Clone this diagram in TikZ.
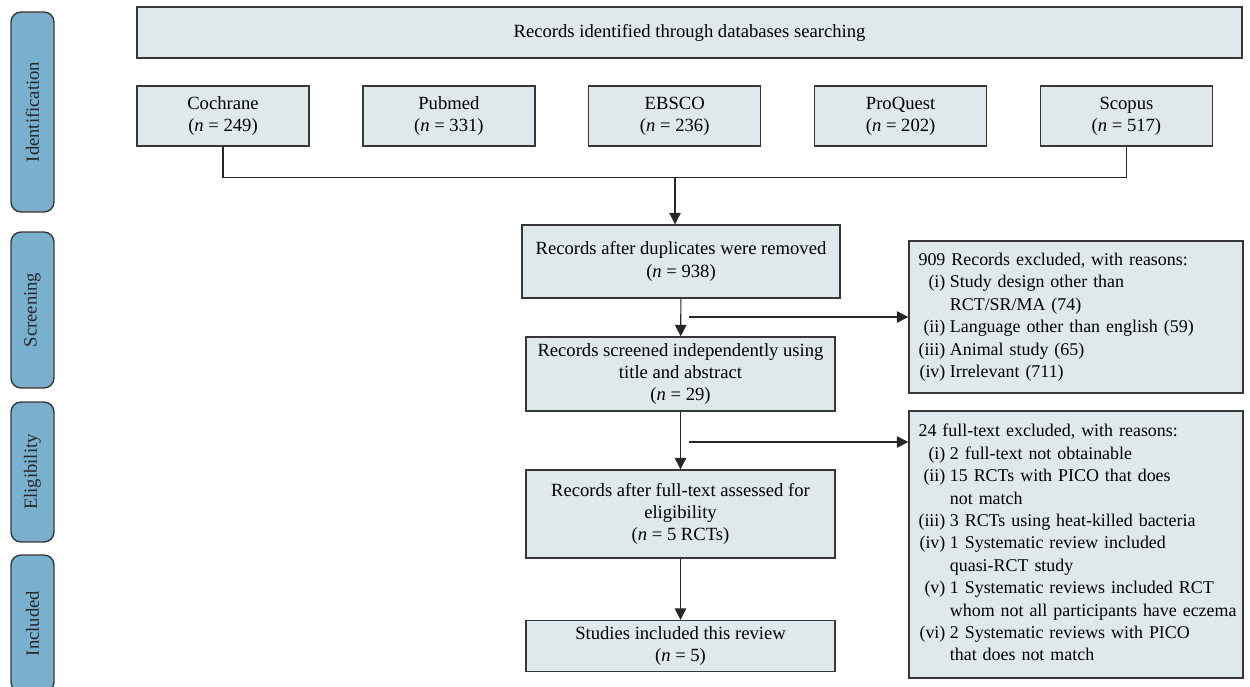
\documentclass[tikz,border=0pt]{standalone}
\usepackage{fontspec}
\setmainfont{Liberation Serif}
\usetikzlibrary{arrows.meta, positioning, calc}
\definecolor{boxfill}{RGB}{223,232,234}
\definecolor{phasefill}{RGB}{120,176,205}
\definecolor{edgegray}{RGB}{55,55,55}

\begin{document}
\begin{tikzpicture}[x=0.02cm, y=-0.02cm, node distance=1.05cm and 1.05cm, >=Triangle, font=\fontsize{10.6}{12.7}\selectfont]
  % Define styles
  \tikzstyle{phase} = [rectangle, rounded corners=2mm, rotate=90, minimum height=0.86cm, draw=edgegray, line width=0.8pt, fill=phasefill, text=black!85]
  \tikzstyle{dbbox} = [rectangle, minimum width=3.44cm, minimum height=1.2cm, align=center, draw=edgegray, line width=0.8pt, fill=boxfill]
  \tikzstyle{process} = [rectangle, minimum width=6.18cm, align=center, draw=edgegray, line width=0.8pt, fill=boxfill]
  \tikzstyle{excluded} = [rectangle, minimum width=6.68cm, text width=6.3cm, inner xsep=0.19cm, align=left, draw=edgegray, line width=0.8pt, fill=boxfill, font=\fontsize{10.2}{12.75}\selectfont]
  \tikzstyle{arrow} = [line width=0.6pt, draw=black!85, -{Triangle[length=2.3mm, width=2.3mm]}]
  \tikzstyle{line} = [draw=black!85, line width=0.6pt]

  \useasboundingbox (0,0) rectangle (1250,686);
  \clip (0,0) rectangle (1250,686);

  % Phase bars
  \node [phase, minimum width=4cm] (identification) at (32.5,112) {Identification};
  \node [phase, minimum width=3.12cm] (screening) at (32.5,310) {Screening};
  \node [phase, minimum width=2.8cm] (eligibility) at (32.5,472) {Eligibility};
  \node [phase, minimum width=2.74cm] (included) at (32.5,623.5) {Included};

  % Place nodes
  \node [dbbox, minimum width=22.1cm, minimum height=1.02cm] (identified) at (689.5,32.5) {Records identified through databases searching};
  \node [dbbox] (cochrane) at (223,116) {Cochrane\\(\textit{n} = 249)};
  \node [dbbox, right=of cochrane] (pubmed) {Pubmed\\(\textit{n} = 331)};
  \node [dbbox, right=of pubmed] (ebsco) {EBSCO\\(\textit{n} = 236)};
  \node [dbbox, right=of ebsco] (proquest) {ProQuest\\(\textit{n} = 202)};
  \node [dbbox, right=of proquest] (scopus) {Scopus\\(\textit{n} = 517)};
  \node [process, minimum width=6.36cm, minimum height=1.46cm] (duplicates) at (681,261.5) {Records after duplicates were removed\\(\textit{n} = 938)};
  \node [process, minimum height=1.48cm] (screened) at (680.5,374) {Records screened independently using\\title and abstract\\(\textit{n} = 29)};
  \node [process, minimum height=1.76cm] (fulltext) at (680.5,514) {Records after full-text assessed for\\eligibility\\(\textit{n} = 5 RCTs)};
  \node [process, minimum height=1cm] (studies) at (680.5,646) {Studies included this review\\(\textit{n} = 5)};
  \node [excluded, minimum height=3.04cm] (excluded1) at (1076,317) {%
    \begin{tabular}{@{}r@{\hspace{0.25em}}l@{}}
      \multicolumn{2}{@{}l}{909 Records excluded, with reasons:}\\
      (i) & Study design other than\\
          & RCT/SR/MA (74)\\
      (ii) & Language other than english (59)\\
      (iii) & Animal study (65)\\
      (iv) & Irrelevant (711)
    \end{tabular}};
  \node [excluded, minimum height=5.34cm] (excluded2) at (1076,544.5) {%
    \begin{tabular}{@{}r@{\hspace{0.25em}}l@{}}
      \multicolumn{2}{@{}l}{24 full-text excluded, with reasons:}\\
      (i) & 2 full-text not obtainable\\
      (ii) & 15 RCTs with PICO that does\\
           & not match\\
      (iii) & 3 RCTs using heat-killed bacteria\\
      (iv) & 1 Systematic review included\\
           & quasi-RCT study\\
      (v) & 1 Systematic reviews included RCT\\
          & whom not all participants have eczema\\
      (vi) & 2 Systematic reviews with PICO\\
           & that does not match
    \end{tabular}};

  \coordinate (busdrop) at (675,177);
  \coordinate (split1) at (689,317);
  \coordinate (split2) at (689,442);

  % Draw edges
  \path [line] (cochrane.south) -- ++(0,31) -| (scopus.south);
  \path [arrow] (busdrop) -- (busdrop |- duplicates.north);
  \path [arrow] (duplicates) -- (screened);
  \path [arrow] (screened) -- (fulltext);
  \path [arrow] (fulltext) -- (studies);
  \path [arrow] (split1) -- (excluded1.west);
  \path [arrow] (split2) -- (split2 -| excluded2.west);
\end{tikzpicture}
\end{document}
